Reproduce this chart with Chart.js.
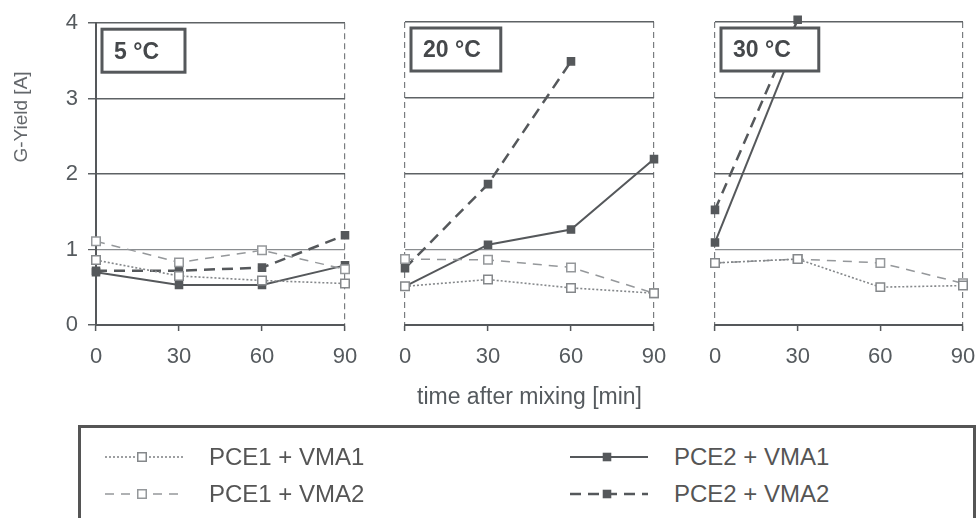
<!DOCTYPE html>
<html>
<head>
<meta charset="utf-8">
<script src="https://cdn.jsdelivr.net/npm/chart.js@4.4.1/dist/chart.umd.min.js"></script>
<style>
body { margin: 0; background: #fff; font-family: "Liberation Sans", Arial, sans-serif; }
#wrap { position: relative; width: 978px; height: 518px; overflow: hidden; }
canvas.panel { position: absolute; top: 0; }
#legend { position: absolute; left: 78px; top: 425px; width: 898px; height: 130px; border: 3px solid #555; box-sizing: border-box; }
.item { position: absolute; display: flex; align-items: center; font-size: 24px; color: #555; height: 28px; }
.item canvas { margin-right: 26px; }
</style>
</head>
<body>
<div id="wrap">
  <canvas class="panel" id="p5" width="359" height="420" style="left:0px"></canvas>
  <canvas class="panel" id="p20" width="308" height="420" style="left:360px"></canvas>
  <canvas class="panel" id="p30" width="307" height="420" style="left:670px"></canvas>
  <div id="legend"></div>
</div>
<script>
const times = [0, 30, 60, 90];
const seriesNames = ["PCE1 + VMA1", "PCE1 + VMA2", "PCE2 + VMA1", "PCE2 + VMA2"];

// 5 °C
const pce1vma1_5 = [0.86, 0.65, 0.59, 0.55];
const pce1vma2_5 = [1.11, 0.83, 0.99, 0.74];
const pce2vma1_5 = [0.70, 0.53, 0.53, 0.79];
const pce2vma2_5 = [0.72, 0.72, 0.76, 1.19];

// 20 °C
const pce1vma1_20 = [0.51, 0.60, 0.49, 0.42];
const pce1vma2_20 = [0.87, 0.86, 0.76, 0.42];
const pce2vma1_20 = [0.51, 1.06, 1.26, 2.19];
const pce2vma2_20 = [0.75, 1.86, 3.48, null];

// 30 °C
const pce1vma1_30 = [0.82, 0.87, 0.50, 0.52];
const pce1vma2_30 = [0.82, 0.87, 0.82, 0.55];
const pce2vma1_30 = [1.09, 3.80, null, null];
const pce2vma2_30 = [1.52, 4.03, null, null];

const styles = [
    { color: "#85888b", width: 1.6, dash: [2, 2], fill: "#fff", radius: 6 },
    { color: "#95989b", width: 1.5, dash: [9, 7], fill: "#fff", radius: 6 },
    { color: "#55585b", width: 2, dash: [], fill: "#55585b", radius: 5 },
    { color: "#55585b", width: 2.5, dash: [11, 7], fill: "#55585b", radius: 5 }
];

const tickColor = "#555a5e";

const tempBox = {
    id: "tempBox",
    afterDatasetsDraw(chart, args, opts) {
        const ctx = chart.ctx;
        const area = chart.chartArea;
        ctx.save();
        ctx.font = 'bold 23px "Liberation Sans", Arial, sans-serif';
        const w = ctx.measureText(opts.text).width + 12 + opts.padR;
        const x = area.left + 6;
        const y = area.top + 6;
        ctx.fillStyle = "#fff";
        ctx.fillRect(x, y, w, 43);
        ctx.lineWidth = 3;
        ctx.strokeStyle = "#55585b";
        ctx.strokeRect(x, y, w, 43);
        ctx.fillStyle = "#45484b";
        ctx.textBaseline = "middle";
        ctx.fillText(opts.text, x + 12, y + 23);
        ctx.restore();
    }
};

const yTitle = {
    id: "yTitle",
    afterDraw(chart, args, opts) {
        if (!opts.text) return;
        const ctx = chart.ctx;
        ctx.save();
        ctx.translate(22, 117);
        ctx.rotate(-Math.PI / 2);
        ctx.font = '19px "Liberation Sans", Arial, sans-serif';
        ctx.fillStyle = "#63676b";
        ctx.textAlign = "center";
        ctx.textBaseline = "middle";
        ctx.fillText(opts.text, 0, 0);
        ctx.restore();
    }
};

function makePanel(id, series, label, first, showXTitle, padR) {
    const datasets = series.map((vals, i) => ({
        label: seriesNames[i],
        data: times.map((t, j) => ({ x: t, y: vals[j] })),
        borderColor: styles[i].color,
        borderWidth: styles[i].width,
        borderDash: styles[i].dash,
        pointStyle: "rect",
        pointRadius: styles[i].radius,
        pointBackgroundColor: styles[i].fill,
        pointBorderColor: styles[i].color,
        pointBorderWidth: 1.5,
        tension: 0,
        clip: 8
    }));

    return new Chart(document.getElementById(id), {
        type: "line",
        data: { datasets: datasets },
        options: {
            responsive: false,
            animation: false,
            devicePixelRatio: 1,
            events: [],
            layout: { padding: { left: first ? 0 : 45, right: 14, top: 22, bottom: 0 } },
            plugins: {
                legend: { display: false },
                tooltip: { enabled: false },
                tempBox: { text: label, padR: padR },
                yTitle: { text: first ? "G-Yield [A]" : "" }
            },
            scales: {
                x: {
                    type: "linear",
                    min: 0,
                    max: 90,
                    ticks: { stepSize: 30, color: tickColor, font: { size: 22 }, padding: 13, maxRotation: 0 },
                    grid: {
                        color: c => (c.tick && (c.tick.value === 90 || (c.tick.value === 0 && !first))) ? "#7a7d80" : "rgba(0,0,0,0)",
                        lineWidth: 1.2,
                        tickLength: 6,
                        tickColor: "#55585b",
                        tickWidth: 1.5
                    },
                    border: { display: true, color: "#55585b", width: 2, dash: [6, 4] },
                    title: {
                        display: showXTitle,
                        text: "time after mixing [min]",
                        color: tickColor,
                        font: { size: 23 },
                        padding: { top: 0, bottom: 9 }
                    },
                    afterFit: s => {
                        s.height = 95;
                        s.paddingLeft = 0;
                        s.paddingRight = 0;
                    }
                },
                y: {
                    min: 0,
                    max: 4,
                    ticks: { stepSize: 1, display: first, color: tickColor, font: { size: 22 }, padding: 10 },
                    grid: {
                        color: c => (c.tick && c.tick.value === 1) ? "#8a8d90" : "#5e6265",
                        lineWidth: c => (c.tick && c.tick.value === 1) ? 1.2 : 1.5,
                        drawTicks: first,
                        tickLength: 8,
                        tickColor: "#5e6265"
                    },
                    border: { display: first, color: "#55585b", width: 2 },
                    afterFit: s => { s.width = first ? 96 : 0; }
                }
            }
        },
        plugins: [tempBox, yTitle]
    });
}

makePanel("p5", [pce1vma1_5, pce1vma2_5, pce2vma1_5, pce2vma2_5], "5 °C", true, false, 26);
makePanel("p20", [pce1vma1_20, pce1vma2_20, pce2vma1_20, pce2vma2_20], "20 °C", false, true, 20);
makePanel("p30", [pce1vma1_30, pce1vma2_30, pce2vma1_30, pce2vma2_30], "30 °C", false, false, 28);

// legend
const legend = document.getElementById("legend");
const legendPos = [
    { left: 24, top: 15 },
    { left: 24, top: 52 },
    { left: 489, top: 15 },
    { left: 489, top: 52 }
];
seriesNames.forEach((name, i) => {
    const item = document.createElement("div");
    item.className = "item";
    item.style.left = legendPos[i].left + "px";
    item.style.top = legendPos[i].top + "px";
    const c = document.createElement("canvas");
    c.width = 78;
    c.height = 20;
    const ctx = c.getContext("2d");
    const st = styles[i];
    ctx.strokeStyle = st.color;
    ctx.lineWidth = st.width;
    ctx.setLineDash(st.dash);
    ctx.beginPath();
    ctx.moveTo(0, 10);
    ctx.lineTo(78, 10);
    ctx.stroke();
    ctx.setLineDash([]);
    const s = st.radius * Math.SQRT1_2;
    ctx.fillStyle = st.fill;
    ctx.fillRect(37 - s, 10 - s, 2 * s, 2 * s);
    ctx.lineWidth = 1.5;
    ctx.strokeRect(37 - s, 10 - s, 2 * s, 2 * s);
    const span = document.createElement("span");
    span.textContent = name;
    item.appendChild(c);
    item.appendChild(span);
    legend.appendChild(item);
});
</script>
</body>
</html>
